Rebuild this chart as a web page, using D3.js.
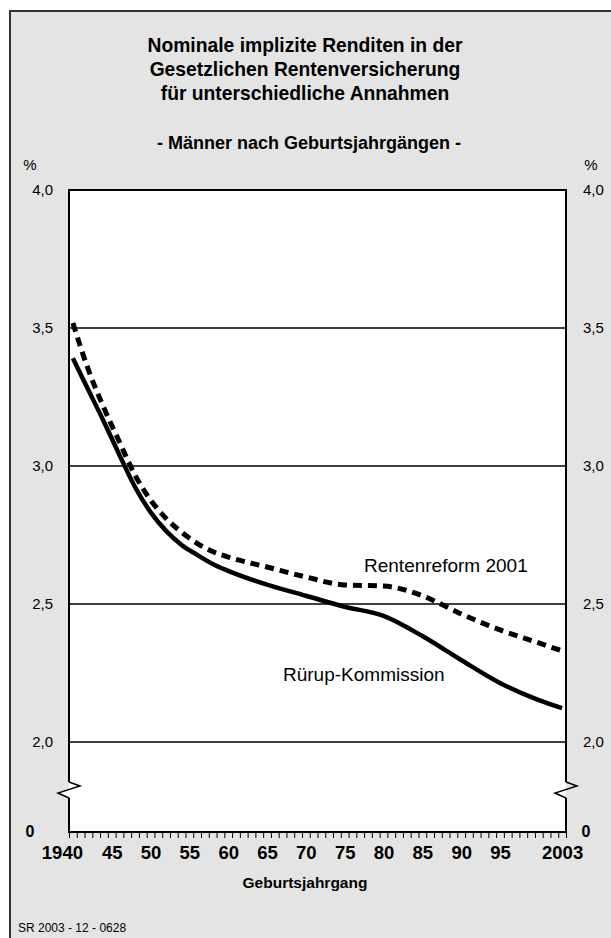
<!DOCTYPE html>
<html>
<head>
<meta charset="utf-8">
<script src="https://cdn.jsdelivr.net/npm/d3@7"></script>
<style>
  html, body { margin: 0; padding: 0; background: #fff; }
  svg { display: block; font-family: "Liberation Sans", Arial, Helvetica, sans-serif; }
</style>
</head>
<body>
<div id="chart"></div>
<script>
const years = [1940, 1942, 1944, 1946, 1948, 1950, 1952, 1954, 1956, 1958, 1960,
    1965, 1970, 1975, 1980, 1985, 1990, 1995, 2000, 2003];
const ruerup = [3.39, 3.275, 3.16, 3.04, 2.924, 2.833, 2.765, 2.714, 2.678, 2.645, 2.62,
    2.57, 2.53, 2.49, 2.457, 2.384, 2.297, 2.214, 2.152, 2.123];
const rentenreform = [3.518, 3.348, 3.21, 3.087, 2.967, 2.877, 2.81, 2.76, 2.72, 2.69, 2.67,
    2.634, 2.598, 2.569, 2.565, 2.53, 2.464, 2.406, 2.359, 2.33];

const yTicks = [2.0, 2.5, 3.0, 3.5, 4.0];
const xLabelYears = [1940, 1945, 1950, 1955, 1960, 1965, 1970, 1975, 1980, 1985, 1990, 1995, 2003];
const xLabels = ['1940', '45', '50', '55', '60', '65', '70', '75', '80', '85', '90', '95', '2003'];

const titleLines = ['Nominale implizite Renditen in der', 'Gesetzlichen Rentenversicherung', 'für unterschiedliche Annahmen'];
const subtitle = '- Männer nach Geburtsjahrgängen -';

const W = 611, H = 938;
const plotLeft = 69, plotRight = 566, plotTop = 190, plotBottom = 832;

const svg = d3.select('#chart').append('svg')
    .attr('width', W)
    .attr('height', H);

// hintergrund + rahmen
svg.append('rect')
    .attr('x', 10).attr('y', 11)
    .attr('width', W).attr('height', H)
    .attr('fill', '#e4e4e4');
svg.append('line')
    .attr('x1', 10).attr('y1', 11).attr('x2', W).attr('y2', 11)
    .attr('stroke', '#333').attr('stroke-width', 2);
svg.append('line')
    .attr('x1', 10).attr('y1', 10).attr('x2', 10).attr('y2', H)
    .attr('stroke', '#333').attr('stroke-width', 2);

// titel
svg.append('g').selectAll('text')
    .data(titleLines)
    .join('text')
    .attr('x', 305)
    .attr('y', (d, i) => 52 + i * 24)
    .attr('text-anchor', 'middle')
    .attr('font-size', 19.3)
    .attr('font-weight', 'bold')
    .text(d => d);

svg.append('text')
    .attr('x', 309)
    .attr('y', 149)
    .attr('text-anchor', 'middle')
    .attr('font-size', 18)
    .attr('font-weight', 'bold')
    .text(subtitle);

// skalen
const x = d3.scaleLinear().domain([1940, 2004]).range([plotLeft, plotRight]);
const y = d3.scaleLinear().domain([2, 4]).range([742, plotTop]);
const yZero = plotBottom;

// plotfläche
svg.append('rect')
    .attr('x', plotLeft).attr('y', plotTop)
    .attr('width', plotRight - plotLeft).attr('height', plotBottom - plotTop)
    .attr('fill', '#fff');

// gitterlinien
svg.append('g').selectAll('line')
    .data(yTicks.filter(d => d < 4))
    .join('line')
    .attr('x1', plotLeft).attr('x2', plotRight)
    .attr('y1', d => y(d)).attr('y2', d => y(d))
    .attr('stroke', '#000')
    .attr('stroke-width', 1.5);

// linien
const line = d3.line()
    .x((d, i) => x(years[i] + 0.5))
    .y(d => y(d))
    .curve(d3.curveMonotoneX);

svg.append('path')
    .datum(ruerup)
    .attr('d', line)
    .attr('fill', 'none')
    .attr('stroke', '#000')
    .attr('stroke-width', 4.5);

svg.append('path')
    .datum(rentenreform)
    .attr('d', line)
    .attr('fill', 'none')
    .attr('stroke', '#000')
    .attr('stroke-width', 5)
    .attr('stroke-dasharray', '9,6');

// rahmen der plotfläche mit achsenbruch
const breakY = 790;
const frame = svg.append('g')
    .attr('fill', 'none')
    .attr('stroke', '#000')
    .attr('stroke-width', 2);

frame.append('line').attr('x1', plotLeft).attr('x2', plotRight).attr('y1', plotTop).attr('y2', plotTop);
frame.append('line').attr('x1', plotLeft - 1).attr('x2', plotRight + 1).attr('y1', plotBottom).attr('y2', plotBottom);

[plotLeft, plotRight].forEach(ax => {
    frame.append('line').attr('x1', ax).attr('x2', ax).attr('y1', plotTop - 1).attr('y2', breakY - 8);
    frame.append('line').attr('x1', ax).attr('x2', ax).attr('y1', breakY + 8).attr('y2', plotBottom + 1);
    frame.append('path')
        .attr('stroke-width', 1.5)
        .attr('fill', ax === plotLeft ? '#fff' : 'none')
        .attr('d', `M${ax},${breakY - 8} L${ax + 11},${breakY - 4} L${ax - 11},${breakY + 3} L${ax},${breakY + 8}`);
});

// x-achse: striche je jahrgang
const xTickAxis = d3.axisBottom(x)
    .tickValues(d3.range(1940, 2005))
    .tickSize(6)
    .tickFormat('');

svg.append('g')
    .attr('transform', `translate(0,${plotBottom})`)
    .call(xTickAxis)
    .call(g => g.select('.domain').remove())
    .call(g => g.selectAll('line').attr('stroke', '#000').attr('stroke-width', 1));

// x-achse: beschriftung
const xLabelAxis = d3.axisBottom(x)
    .tickValues(xLabelYears.map(d => d + 0.5))
    .tickSize(0)
    .tickPadding(14)
    .tickFormat((d, i) => xLabels[i]);

svg.append('g')
    .attr('transform', `translate(0,${plotBottom})`)
    .call(xLabelAxis)
    .call(g => g.select('.domain').remove())
    .call(g => g.selectAll('text')
        .attr('font-family', null)
        .attr('font-size', 18.5)
        .attr('font-weight', 'bold')
        .attr('fill', '#000'))
    // erste beschriftung sitzt im original etwas weiter links
    .call(g => g.selectAll('.tick').filter((d, i) => i === 0).select('text').attr('dx', -11));

svg.append('text')
    .attr('x', 305)
    .attr('y', 888)
    .attr('text-anchor', 'middle')
    .attr('font-size', 15.5)
    .attr('font-weight', 'bold')
    .text('Geburtsjahrgang');

// y-achsen beschriftung
const fmt = d => d3.format('.1f')(d).replace('.', ',');

const yLeft = d3.axisLeft(y).tickValues(yTicks).tickSize(0).tickPadding(16).tickFormat(fmt);
const yRight = d3.axisRight(y).tickValues(yTicks).tickSize(0).tickPadding(17).tickFormat(fmt);

svg.append('g')
    .attr('transform', `translate(${plotLeft},0)`)
    .call(yLeft)
    .call(g => g.select('.domain').remove())
    .call(g => g.selectAll('text').attr('font-family', null).attr('font-size', 15).attr('fill', '#000'));

svg.append('g')
    .attr('transform', `translate(${plotRight},0)`)
    .call(yRight)
    .call(g => g.select('.domain').remove())
    .call(g => g.selectAll('text').attr('font-family', null).attr('font-size', 15).attr('fill', '#000'));

svg.append('text').attr('x', 30).attr('y', yZero + 5).attr('text-anchor', 'middle')
    .attr('font-size', 16).attr('font-weight', 'bold').text('0');
svg.append('text').attr('x', 586).attr('y', yZero + 5).attr('text-anchor', 'middle')
    .attr('font-size', 16).attr('font-weight', 'bold').text('0');

svg.append('text').attr('x', 30).attr('y', 170).attr('text-anchor', 'middle')
    .attr('font-size', 15).text('%');
svg.append('text').attr('x', 591).attr('y', 170).attr('text-anchor', 'middle')
    .attr('font-size', 15).text('%');

// serienbeschriftung
svg.append('text').attr('x', 364).attr('y', 572)
    .attr('font-size', 19).text('Rentenreform 2001');
svg.append('text').attr('x', 283).attr('y', 681)
    .attr('font-size', 19).text('Rürup-Kommission');

// quelle
svg.append('text').attr('x', 18).attr('y', 932)
    .attr('font-size', 12).text('SR 2003 - 12 - 0628');
</script>
</body>
</html>
